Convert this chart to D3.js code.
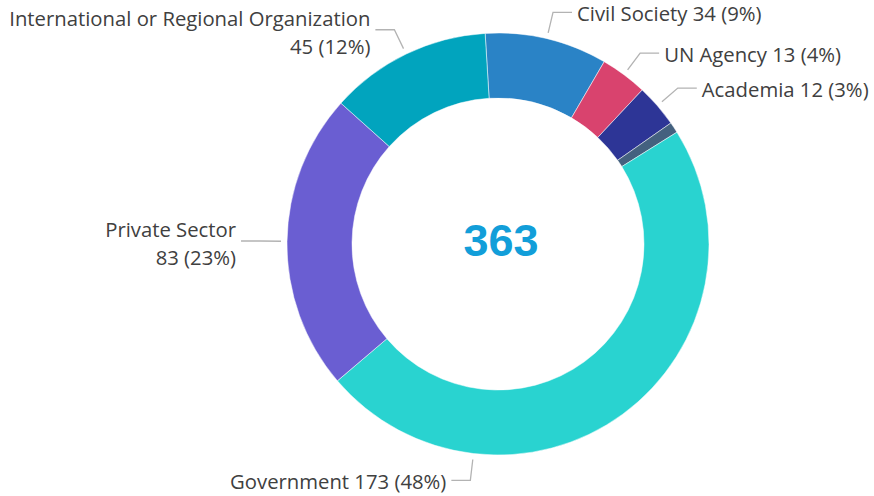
<!doctype html>
<html>
<head>
<meta charset="utf-8">
<title>donut</title>
<script src="https://d3js.org/d3.v7.min.js"></script>
<style>
body{margin:0;background:#fff;}
text{font-family:"Open Sans","Noto Sans",sans-serif;}
</style>
</head>
<body>
<script>
// data, clockwise from the top
var categories = ["Civil Society","UN Agency","Academia","Other","Government","Private Sector","International or Regional Organization"];
var values = [34,13,12,3,173,83,45];
var colors = ["#2A83C6","#D9436E","#2D3596","#44617F","#29D3D0","#6A5ED2","#01A4BE"];
var showLabel = [true,true,true,false,true,true,true];
var twoLines = [false,false,false,false,false,true,true];
var labelAt = [0.5,0.5,0.5,0.5,0.75,0.5,0.5]; // where in the slice the leader starts

var width = 874, height = 496;
var cx = 498, cy = 244, R = 211, r0 = 146;
var total = d3.sum(values);
var start = -0.061;

var svg = d3.select("body").append("svg")
    .attr("width", width)
    .attr("height", height);

var g = svg.append("g").attr("transform","translate("+cx+","+cy+")");

var pie = d3.pie().sort(null).value(function(d){return d;})
    .startAngle(start).endAngle(start + 2*Math.PI);
var arcs = pie(values);
var arc = d3.arc().innerRadius(r0).outerRadius(R);

g.selectAll("path.slice").data(arcs).enter().append("path")
    .attr("class","slice")
    .attr("d",arc)
    .attr("fill",function(d,i){return colors[i];})
    .attr("stroke","#fff")
    .attr("stroke-width",0.5);

// labels
function pt(a, rr){ return [rr*Math.sin(a), -rr*Math.cos(a)]; }

arcs.forEach(function(d,i){
  if(!showLabel[i]) return;
  var a = d.startAngle + (d.endAngle-d.startAngle)*labelAt[i];
  var p0 = pt(a, R+6), p1 = pt(a, R+27);
  var right = Math.sin(a) > 0;
  var p2 = [p1[0] + (right?19:-19), p1[1]];
  g.append("polyline")
    .attr("points",[p0,p1,p2].map(function(p){return p.join(",");}).join(" "))
    .attr("fill","none")
    .attr("stroke","#b3b3b3")
    .attr("stroke-width",1.3);
  var pct = Math.round(values[i]/total*100);
  var tx = p2[0] + (right?5:-5);
  var t = g.append("text")
    .attr("x",tx)
    .attr("text-anchor",right?"start":"end")
    .attr("fill","#404040")
    .style("font-size","20.3px");
  if(twoLines[i]){
    t.append("tspan").attr("x",tx).attr("y",p2[1]-4).text(categories[i]);
    t.append("tspan").attr("x",tx).attr("y",p2[1]+24).text(values[i]+" ("+pct+"%)");
  } else {
    t.attr("y",p2[1]+8.5).text(categories[i]+" "+values[i]+" ("+pct+"%)");
  }
});

// total in the middle
g.append("text")
  .attr("x",3).attr("y",12)
  .attr("text-anchor","middle")
  .attr("fill","#129ED9")
  .style("font-family","'Liberation Sans',Arial,sans-serif")
  .style("font-weight","bold")
  .style("font-size","45px")
  .text(total);
</script>
</body>
</html>
